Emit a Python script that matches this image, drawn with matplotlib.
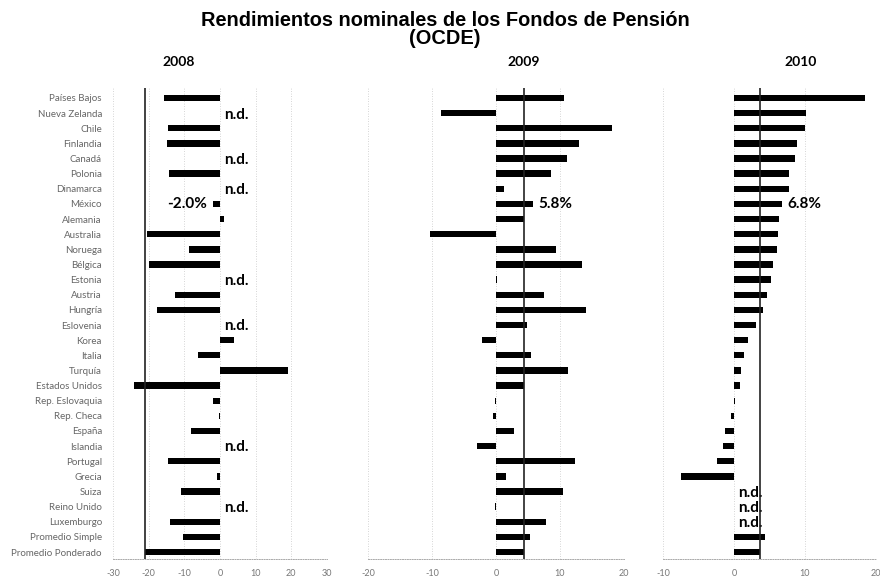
import numpy as np
import matplotlib
matplotlib.use("Agg")
import matplotlib.pyplot as plt

plt.rcParams["axes.unicode_minus"] = False
plt.rcParams["font.family"] = ["Lato", "DejaVu Sans"]

nan = np.nan

PAISES = [
    "Países Bajos", "Nueva Zelanda", "Chile", "Finlandia", "Canadá", "Polonia",
    "Dinamarca", "México", "Alemania", "Australia", "Noruega", "Bélgica",
    "Estonia", "Austria", "Hungría", "Eslovenia", "Korea", "Italia", "Turquía",
    "Estados Unidos", "Rep. Eslovaquia", "Rep. Checa", "España", "Islandia",
    "Portugal", "Grecia", "Suiza", "Reino Unido", "Luxemburgo",
    "Promedio Simple", "Promedio Ponderado",
]

# rendimientos nominales (%), nan = n.d.
RET_2008 = [-15.8, nan, -14.6, -15.0, nan, -14.2, nan, -2.0, 1.2, -20.4,
            -8.6, -20.0, nan, -12.7, -17.6, nan, 3.8, -6.2, 19.0, -24.0,
            -1.9, -0.3, -8.0, nan, -14.5, -0.8, -11.0, nan, -14.0, -10.4, -21.0]
RET_2009 = [10.7, -8.6, 18.1, 13.0, 11.1, 8.6, 1.3, 5.8, 4.3, -10.3,
            9.4, 13.5, 0.1, 7.5, 14.0, 4.9, -2.2, 5.4, 11.3, 4.4,
            -0.1, -0.5, 2.8, -3.0, 12.3, 1.6, 10.4, -0.1, 7.8, 5.3, 4.3]
RET_2010 = [18.5, 10.1, 10.0, 8.9, 8.6, 7.8, 7.7, 6.8, 6.4, 6.2,
            6.0, 5.5, 5.2, 4.6, 4.1, 3.1, 2.0, 1.4, 1.0, 0.9,
            0.1, -0.4, -1.2, -1.5, -2.4, -7.4, nan, nan, nan, 4.4, 3.6]

ANIOS = ["2008", "2009", "2010"]
XTICKS_2008 = [-30, -20, -10, 0, 10, 20, 30]
XTICKS_2009 = [-20, -10, 0, 10, 20]
XTICKS_2010 = [-10, 0, 10, 20]
DESTACADO = "México"

W, H = 880, 578


def draw_panel(ax, values, xticks, show_names):
    vals = np.asarray(values, dtype=float)
    y = np.arange(len(PAISES))
    ax.barh(y, np.nan_to_num(vals), height=0.42, color="black", zorder=3)

    ax.set_xlim(xticks[0], xticks[-1])
    ax.set_ylim(len(PAISES) - 0.54, -0.66)
    ax.set_xticks(xticks)
    ax.set_xticklabels([str(t) for t in xticks])
    ax.tick_params(axis="x", length=0, pad=7, labelsize=6.5, labelcolor="#777777")
    ax.set_yticks(y)
    if show_names:
        ax.set_yticklabels(PAISES)
        ax.tick_params(axis="y", length=0, pad=8, labelsize=7, labelcolor="#666666")
    else:
        ax.set_yticklabels([])
        ax.tick_params(axis="y", length=0)

    for t in xticks:
        ax.axvline(t, color="#c8c8c8", lw=0.6, ls=(0, (1, 2)), zorder=1)

    for s in ["top", "right", "left"]:
        ax.spines[s].set_visible(False)
    ax.spines["bottom"].set_color("#aaaaaa")
    ax.spines["bottom"].set_linestyle((0, (1, 1.5)))
    ax.spines["bottom"].set_linewidth(0.7)

    # linea del promedio ponderado
    ax.axvline(vals[-1], color="#222222", lw=1.2, zorder=4)

    for i, v in enumerate(vals):
        if np.isnan(v):
            ax.annotate("n.d.", (0, i), xytext=(3, -1), textcoords="offset points",
                        ha="left", va="center", fontsize=11, fontweight="bold")
        elif PAISES[i] == DESTACADO:
            if v < 0:
                ax.annotate(f"{v:.1f}%", (v, i), xytext=(-4, 0), textcoords="offset points",
                            ha="right", va="center", fontsize=11, fontweight="bold")
            else:
                ax.annotate(f"{v:.1f}%", (v, i), xytext=(4, 0), textcoords="offset points",
                            ha="left", va="center", fontsize=11, fontweight="bold")


fig = plt.figure(figsize=(W / 100, H / 100), dpi=100)

bottom = 1 - 559 / H
height = (559 - 88) / H
ax1 = fig.add_axes([113 / W, bottom, 214 / W, height])
ax2 = fig.add_axes([368 / W, bottom, 256 / W, height])
ax3 = fig.add_axes([663 / W, bottom, 213 / W, height])

draw_panel(ax1, RET_2008, XTICKS_2008, True)
draw_panel(ax2, RET_2009, XTICKS_2009, False)
draw_panel(ax3, RET_2010, XTICKS_2010, False)

fig.text(445 / W, 1 - 20 / H, "Rendimientos nominales de los Fondos de Pensión",
         ha="center", va="center", fontsize=14.4, fontweight="bold", family="Liberation Sans")
fig.text(445 / W, 1 - 39 / H, "(OCDE)",
         ha="center", va="center", fontsize=14.4, fontweight="bold", family="Liberation Sans")

for anio, xc in zip(ANIOS, [179, 524, 801]):
    fig.text(xc / W, 1 - 62 / H, anio, ha="center", va="center",
             fontsize=10, fontweight="bold")

fig.savefig("out.png", dpi=100)
